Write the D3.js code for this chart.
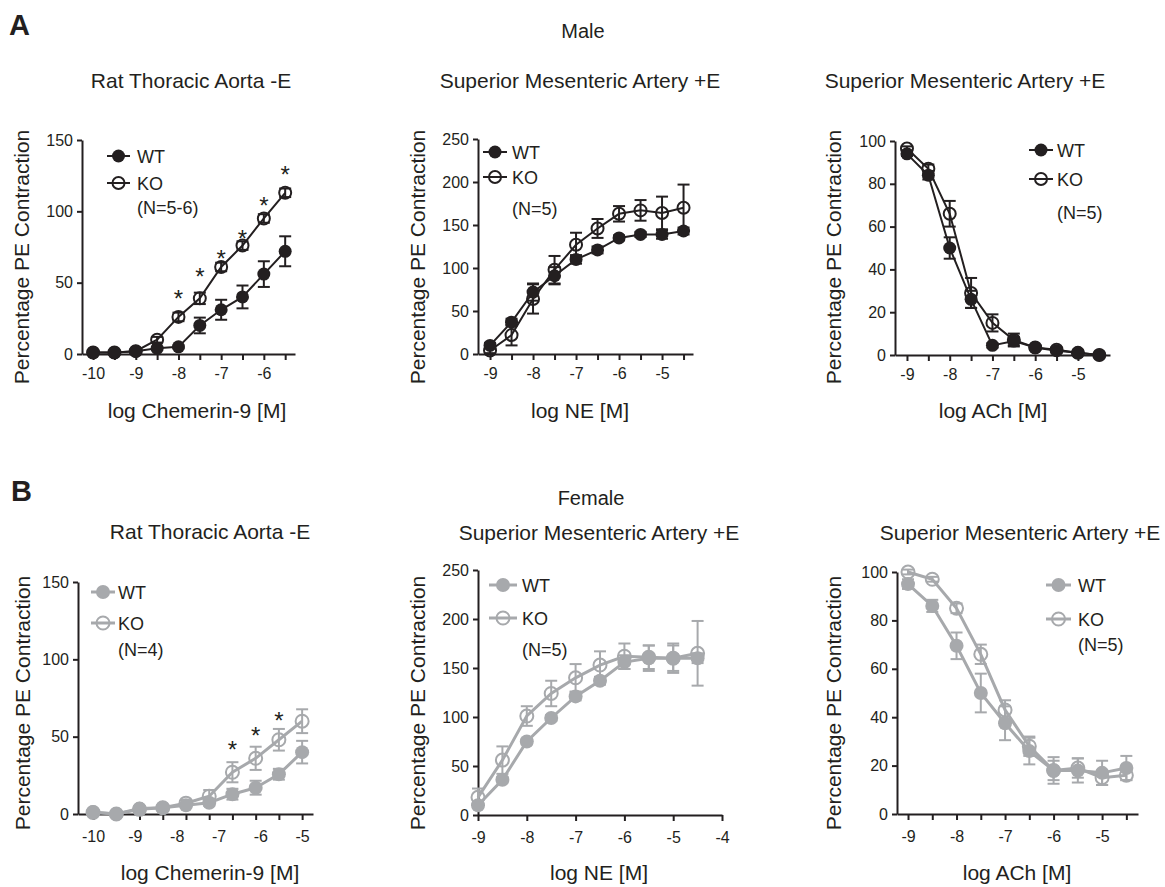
<!DOCTYPE html>
<html>
<head>
<meta charset="utf-8">
<script src="https://cdn.jsdelivr.net/npm/d3@7"></script>
<style>
  body { margin: 0; background: #fff; }
  svg { display: block; }
</style>
</head>
<body>
<script>
// ---- Doses (log molar) ----
const maleChemerinDoses = [-10, -9.5, -9, -8.5, -8, -7.5, -7, -6.5, -6, -5.5];
const maleNEDoses = [-9, -8.5, -8, -7.5, -7, -6.5, -6, -5.5, -5, -4.5];
const maleAChDoses = [-9, -8.5, -8, -7.5, -7, -6.5, -6, -5.5, -5, -4.5];
const femaleChemerinDoses = [-10, -9.444, -8.889, -8.333, -7.778, -7.222, -6.667, -6.111, -5.556, -5];
const femaleNEDoses = [-9, -8.5, -8, -7.5, -7, -6.5, -6, -5.5, -5, -4.5];
const femaleAChDoses = [-9, -8.5, -8, -7.5, -7, -6.5, -6, -5.5, -5, -4.5];

// ---- Responses: mean and SEM (% of PE contraction) ----
const maleChemerinWT    = [1, 1, 2, 4, 5, 20, 31, 40, 56, 72];
const maleChemerinWTsem = [1, 1, 1, 1, 1, 5.5, 7, 8, 9, 10.5];
const maleChemerinKO    = [1, 1, 2, 10, 26, 39, 61, 76, 95, 113];
const maleChemerinKOsem = [1, 1, 1, 2, 3, 4, 3, 3, 3, 3];

const maleNEWT    = [10, 37, 72, 91, 110, 121, 135, 139, 139, 143];
const maleNEWTsem = [3, 4, 10, 10, 5, 4, 3, 3, 5, 4];
const maleNEKO    = [4, 22, 64, 98, 127, 146, 163, 167, 164, 170];
const maleNEKOsem = [3, 12, 17, 16, 14, 11, 9, 12, 19, 27];

const maleAChWT    = [94, 84, 50, 26, 4.5, 6.5, 3.5, 2, 1, 0];
const maleAChWTsem = [1, 2, 5, 4, 1, 2, 1, 1, 1, 0.5];
const maleAChKO    = [96.5, 87, 66, 29, 15, 7, 3.5, 2.5, 1, 0];
const maleAChKOsem = [1, 2, 6, 7, 4, 3, 1, 1, 1, 0.5];

const femaleChemerinWT    = [1.3, 0, 3.5, 4, 5.6, 7.3, 12.8, 17, 25.7, 40];
const femaleChemerinWTsem = [1, 1, 1, 1, 1, 2, 3.5, 4.5, 3.5, 7.3];
const femaleChemerinKO    = [1, 0, 3, 4, 7, 11.5, 27, 36, 48, 60];
const femaleChemerinKOsem = [1, 1, 1, 1, 2, 4, 6.5, 7.5, 7, 7.7];

const femaleNEWT    = [10, 36, 75, 99, 121, 137, 156, 160, 160, 160];
const femaleNEWTsem = [3, 3, 3, 3, 4, 4, 7, 13, 15, 5];
const femaleNEKO    = [18, 56, 101, 124, 140, 153, 162, 161, 160, 165];
const femaleNEKOsem = [9, 14, 10, 13, 14, 14, 13, 12, 13, 33];

const femaleAChWT    = [95, 86, 69.5, 50, 37.5, 26, 18, 18, 17, 19];
const femaleAChWTsem = [2, 2.5, 5.5, 8, 7, 5.5, 5.5, 5, 5, 5];
const femaleAChKO    = [100, 97, 85, 66, 43, 28, 18, 19, 15, 16];
const femaleAChKOsem = [1, 1, 2, 4, 4, 4, 4, 4, 3, 2];

// ---- Significance marks (dose, height in % units) ----
const maleChemerinStarDoses = [-8, -7.5, -7, -6.5, -6, -5.5];
const maleChemerinStarY     = [43, 58, 71, 85, 108, 130];
const femaleChemerinStarDoses = [-6.667, -6.111, -5.556];
const femaleChemerinStarY     = [45, 54, 64];

// ---- Tick values ----
const chemerinTicks = [0, 50, 100, 150];
const neTicks = [0, 50, 100, 150, 200, 250];
const achTicks = [0, 20, 40, 60, 80, 100];
const halfLogTicksA1 = [-10, -9.5, -9, -8.5, -8, -7.5, -7, -6.5, -6, -5.5];
const halfLogTicks9 = [-9, -8.5, -8, -7.5, -7, -6.5, -6, -5.5, -5, -4.5];
const decadeLabels10 = [-10, -9, -8, -7, -6, -5];
const decadeLabels9 = [-9, -8, -7, -6, -5];
const decadeTicksNE = [-9, -8, -7, -6, -5, -4];

// ---- Text ----
const groupTitles = ["Male", "Female"];
const panelLetters = ["A", "B"];
const aortaTitle = "Rat Thoracic Aorta -E";
const smaTitle = "Superior Mesenteric Artery +E";
const yTitle = "Percentage PE Contraction";
const seriesNames = ["WT", "KO"];

const FONT = '"Liberation Sans", Arial, Helvetica, sans-serif';
const INK = "#231f20";
const GREY = "#a7a9ac";

const W = 1165, H = 887;
const svg = d3.select("body").append("svg")
  .attr("width", W).attr("height", H)
  .style("font-family", FONT);

const panels = [
  { color: INK, r: 6.5, lw: 2, x: maleChemerinDoses, wt: maleChemerinWT, wtSem: maleChemerinWTsem,
    ko: maleChemerinKO, koSem: maleChemerinKOsem, xDom: [-10.26, -5.27], xRng: [82, 295],
    yMax: 150, yRng: [354, 140], yTicks: chemerinTicks, xTicks: halfLogTicksA1, xLabels: null,
    tickPad: 8, title: aortaTitle, titleX: 191, titleY: 88, xTitle: "log Chemerin-9 [M]", xTitleX: 197, xTitleY: 418,
    yTitleX: 29, yTitleY: 257,
    leg: { x0: 107, x1: 130, tx: 137, y1: 156, y2: 183, nY: 207, n: "(N=5-6)" },
    stars: [maleChemerinStarDoses, maleChemerinStarY] },
  { color: INK, r: 6.5, lw: 2, x: maleNEDoses, wt: maleNEWT, wtSem: maleNEWTsem,
    ko: maleNEKO, koSem: maleNEKOsem, xDom: [-9.28, -4.28], xRng: [478, 693],
    yMax: 250, yRng: [354, 139], yTicks: neTicks, xTicks: halfLogTicks9, xLabels: null,
    tickPad: 8, title: smaTitle, titleX: 580, titleY: 88, xTitle: "log NE [M]", xTitleX: 580, xTitleY: 418,
    yTitleX: 425, yTitleY: 257,
    leg: { x0: 483, x1: 507, tx: 512, y1: 152, y2: 177, nY: 208, n: "(N=5)" } },
  { color: INK, r: 6.5, lw: 2, x: maleAChDoses, wt: maleAChWT, wtSem: maleAChWTsem,
    ko: maleAChKO, koSem: maleAChKOsem, xDom: [-9.28, -4.25], xRng: [895, 1110],
    yMax: 100, yRng: [355, 141], yTicks: achTicks, xTicks: halfLogTicks9, xLabels: null,
    tickPad: 8, title: smaTitle, titleX: 965, titleY: 88, xTitle: "log ACh [M]", xTitleX: 993, xTitleY: 418,
    yTitleX: 841, yTitleY: 257,
    leg: { x0: 1029, x1: 1053, tx: 1057, y1: 150, y2: 179, nY: 212, n: "(N=5)" } },
  { color: GREY, r: 7, lw: 3, x: femaleChemerinDoses, wt: femaleChemerinWT, wtSem: femaleChemerinWTsem,
    ko: femaleChemerinKO, koSem: femaleChemerinKOsem, xDom: [-10.36, -4.74], xRng: [78, 313],
    yMax: 150, yRng: [814, 582], yTicks: chemerinTicks, xTicks: femaleChemerinDoses, xLabels: decadeLabels10,
    tickPad: 11, title: aortaTitle, titleX: 210, titleY: 539, xTitle: "log Chemerin-9 [M]", xTitleX: 210, xTitleY: 880,
    yTitleX: 30, yTitleY: 703,
    leg: { x0: 91, x1: 115, tx: 118, y1: 592, y2: 623, nY: 649, n: "(N=4)" },
    stars: [femaleChemerinStarDoses, femaleChemerinStarY] },
  { color: GREY, r: 7, lw: 3, x: femaleNEDoses, wt: femaleNEWT, wtSem: femaleNEWTsem,
    ko: femaleNEKO, koSem: femaleNEKOsem, xDom: [-9, -4], xRng: [478, 722],
    yMax: 250, yRng: [815, 570], yTicks: neTicks, xTicks: decadeTicksNE, xLabels: null,
    tickPad: 11, title: smaTitle, titleX: 599, titleY: 540, xTitle: "log NE [M]", xTitleX: 599, xTitleY: 880,
    yTitleX: 425, yTitleY: 703,
    leg: { x0: 489, x1: 517, tx: 522, y1: 585, y2: 618, nY: 649, n: "(N=5)" } },
  { color: GREY, r: 7, lw: 3, x: femaleAChDoses, wt: femaleAChWT, wtSem: femaleAChWTsem,
    ko: femaleAChKO, koSem: femaleAChKOsem, xDom: [-9.227, -4.26], xRng: [897, 1138],
    yMax: 100, yRng: [814, 572], yTicks: achTicks, xTicks: halfLogTicks9, xLabels: null,
    tickPad: 11, title: smaTitle, titleX: 1020, titleY: 540, xTitle: "log ACh [M]", xTitleX: 1017, xTitleY: 880,
    yTitleX: 841, yTitleY: 703,
    leg: { x0: 1046, x1: 1071, tx: 1078, y1: 585, y2: 619, nY: 644, n: "(N=5)" } }
];

// Row headings and panel letters
svg.append("text").attr("x", 9).attr("y", 35).attr("font-size", 29).attr("font-weight", "bold")
  .attr("fill", INK).text(panelLetters[0]);
svg.append("text").attr("x", 11).attr("y", 501).attr("font-size", 29).attr("font-weight", "bold")
  .attr("fill", INK).text(panelLetters[1]);
svg.append("text").attr("x", 583).attr("y", 38).attr("font-size", 20).attr("text-anchor", "middle")
  .attr("fill", INK).text(groupTitles[0]);
svg.append("text").attr("x", 591).attr("y", 505).attr("font-size", 20).attr("text-anchor", "middle")
  .attr("fill", INK).text(groupTitles[1]);

const fmt = d => Number.isInteger(d) ? String(d) : "";

panels.forEach(p => {
  const g = svg.append("g");
  const x = d3.scaleLinear().domain(p.xDom).range(p.xRng);
  const y = d3.scaleLinear().domain([0, p.yMax]).range(p.yRng);

  // titles
  g.append("text").attr("x", p.titleX).attr("y", p.titleY).attr("text-anchor", "middle")
    .attr("font-size", 21).attr("fill", INK).text(p.title);
  g.append("text").attr("x", p.xTitleX).attr("y", p.xTitleY).attr("text-anchor", "middle")
    .attr("font-size", 21).attr("fill", INK).text(p.xTitle);
  g.append("text").attr("transform", `translate(${p.yTitleX},${p.yTitleY}) rotate(-90)`)
    .attr("text-anchor", "middle").attr("font-size", 21).attr("fill", INK).text(yTitle);

  // y axis
  const ya = g.append("g").attr("transform", `translate(${p.xRng[0]},0)`)
    .call(d3.axisLeft(y).tickValues(p.yTicks).tickSize(5).tickSizeOuter(0).tickPadding(4)
      .tickFormat(d => String(d)));
  // x axis
  const xa = g.append("g").attr("transform", `translate(0,${p.yRng[0]})`)
    .call(d3.axisBottom(x).tickValues(p.xTicks).tickSize(6).tickSizeOuter(0).tickPadding(p.tickPad)
      .tickFormat(p.xLabels ? () => "" : fmt));
  if (p.xLabels) {
    const xl = g.append("g").attr("transform", `translate(0,${p.yRng[0]})`)
      .call(d3.axisBottom(x).tickValues(p.xLabels).tickSize(6).tickPadding(p.tickPad)
        .tickFormat(d => String(d)));
    xl.select(".domain").remove();
    xl.selectAll(".tick line").remove();
    xl.selectAll("text").attr("font-size", 16).attr("fill", INK).attr("font-family", FONT);
  }
  [ya, xa].forEach(a => {
    a.select(".domain").attr("stroke", INK).attr("stroke-width", 2);
    a.selectAll(".tick line").attr("stroke", INK).attr("stroke-width", 2);
    a.selectAll("text").attr("font-size", 16).attr("fill", INK).attr("font-family", FONT);
  });

  const line = d3.line().x(d => x(d[0])).y(d => y(d[1]));
  const series = [
    { v: p.ko, s: p.koSem, filled: false },
    { v: p.wt, s: p.wtSem, filled: true }
  ];
  series.forEach(sr => {
    const pts = p.x.map((d, i) => [d, sr.v[i], sr.s[i]]);
    g.append("path").datum(pts).attr("d", line).attr("fill", "none")
      .attr("stroke", p.color).attr("stroke-width", p.lw);
    const eb = g.append("g").attr("stroke", p.color).attr("stroke-width", 2);
    pts.forEach(d => {
      const cx = x(d[0]), y0 = y(d[1] - d[2]), y1 = y(d[1] + d[2]);
      eb.append("line").attr("x1", cx).attr("x2", cx).attr("y1", y0).attr("y2", y1);
      eb.append("line").attr("x1", cx - 6).attr("x2", cx + 6).attr("y1", y0).attr("y2", y0);
      eb.append("line").attr("x1", cx - 6).attr("x2", cx + 6).attr("y1", y1).attr("y2", y1);
    });
    g.append("g").selectAll("circle").data(pts).join("circle")
      .attr("cx", d => x(d[0])).attr("cy", d => y(d[1]))
      .attr("r", sr.filled ? p.r : p.r - 0.5)
      .attr("fill", sr.filled ? p.color : "none")
      .attr("stroke", p.color).attr("stroke-width", sr.filled ? 0 : 2);
  });

  // significance asterisks
  if (p.stars) {
    const [sx, sy] = p.stars;
    g.append("g").selectAll("text").data(sx.map((d, i) => [d, sy[i]])).join("text")
      .attr("x", d => x(d[0])).attr("y", d => y(d[1]) + 14)
      .attr("text-anchor", "middle").attr("font-size", 24).attr("fill", INK).text("*");
  }

  // legend
  const L = p.leg;
  [[L.y1, true, seriesNames[0]], [L.y2, false, seriesNames[1]]].forEach(([ly, filled, name]) => {
    g.append("line").attr("x1", L.x0).attr("x2", L.x1).attr("y1", ly).attr("y2", ly)
      .attr("stroke", p.color).attr("stroke-width", p.lw);
    g.append("circle").attr("cx", (L.x0 + L.x1) / 2).attr("cy", ly)
      .attr("r", filled ? p.r : p.r - 0.5)
      .attr("fill", filled ? p.color : "none").attr("stroke", p.color)
      .attr("stroke-width", filled ? 0 : 2);
    g.append("text").attr("x", L.tx).attr("y", ly + 6.5).attr("font-size", 18)
      .attr("fill", INK).text(name);
  });
  g.append("text").attr("x", L.tx).attr("y", L.nY + 6.5).attr("font-size", 18)
    .attr("fill", INK).text(L.n);
});
</script>
</body>
</html>
